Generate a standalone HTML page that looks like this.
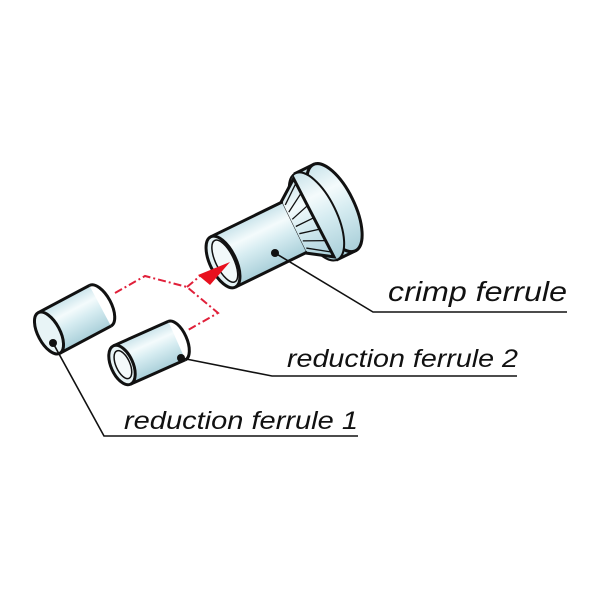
<!DOCTYPE html>
<html><head><meta charset="utf-8"><style>
html,body{margin:0;padding:0;background:#fff;}
svg{display:block}
text{font-family:"Liberation Sans",sans-serif;font-style:italic;fill:#111}
</style></head><body>
<svg width="600" height="600" viewBox="0 0 600 600" xmlns="http://www.w3.org/2000/svg">
<defs>
<linearGradient id="g" x1="0" y1="0" x2="0" y2="1">
<stop offset="0" stop-color="#c9e3ea"/><stop offset="0.3" stop-color="#f4fbfc"/><stop offset="0.55" stop-color="#d6ecf1"/><stop offset="1" stop-color="#a9cfd9"/>
</linearGradient>
</defs>
<g transform="translate(223,262) rotate(-26)" stroke="#111" stroke-width="3">
  <rect x="104" y="-48" width="20" height="96" fill="url(#g)"/>
  <ellipse cx="124" cy="0" rx="20" ry="48" fill="url(#g)"/>
  <ellipse cx="104" cy="0" rx="20" ry="48" fill="url(#g)" stroke-width="2"/>
  <path d="M78,-28 L100,-44 L102,44 L78,28 Z" fill="url(#g)"/>
  <g stroke-width="1.3">
    <line x1="81" y1="-24" x2="99" y2="-38"/><line x1="81" y1="-16" x2="101" y2="-28"/>
    <line x1="81" y1="-8" x2="102" y2="-14"/><line x1="81" y1="0" x2="102" y2="0"/>
    <line x1="81" y1="8" x2="102" y2="13"/><line x1="81" y1="16" x2="102" y2="26"/>
    <line x1="81" y1="24" x2="101" y2="38"/>
  </g>
  <rect x="0" y="-28" width="79" height="56" fill="url(#g)" stroke="none"/>
  <line x1="0" y1="-28" x2="80" y2="-28"/><line x1="0" y1="28" x2="80" y2="28"/>
  <ellipse cx="0" cy="0" rx="13" ry="28" fill="#e4f2f5"/>
  <ellipse cx="2" cy="0" rx="9" ry="23" fill="#f2f9fa" stroke-width="1.5"/>
</g>
<g transform="translate(49,333) rotate(-28)" stroke="#111" stroke-width="3">
  <rect x="0" y="-23" width="58" height="46" fill="url(#g)" stroke="none"/>
  <line x1="0" y1="-23" x2="58" y2="-23"/><line x1="0" y1="23" x2="58" y2="23"/>
  <path d="M58,-23 A11,23 0 0 1 58,23" fill="none"/>
  <ellipse cx="0" cy="0" rx="11" ry="23" fill="#e8f4f6"/>
</g>
<g transform="translate(122,365) rotate(-24)" stroke="#111" stroke-width="3">
  <rect x="0" y="-21" width="60" height="42" fill="url(#g)" stroke="none"/>
  <line x1="0" y1="-21" x2="60" y2="-21"/><line x1="0" y1="21" x2="60" y2="21"/>
  <path d="M60,-21 A10,21 0 0 1 60,21" fill="none"/>
  <ellipse cx="0" cy="0" rx="11" ry="21" fill="#e8f4f6"/>
  <ellipse cx="1" cy="0" rx="7" ry="15" fill="#f4fafb" stroke-width="1.5"/>
</g>
<g stroke="#e0203a" stroke-width="2" fill="none" stroke-dasharray="8,3,2,3">
  <polyline points="115,293 145,276 187,287 218,313 188,330"/>
  <polyline points="187,287 200,276"/>
</g>
<polygon points="198,275 230,262 210,285" fill="#e8101e"/>
<g stroke="#111" stroke-width="1.6" fill="none">
  <polyline points="275,253 373,312 567,312"/>
  <polyline points="181,358 272,376 517,376"/>
  <polyline points="53,343 104,436 358,436"/>
</g>
<circle cx="275" cy="253" r="4" fill="#111"/>
<circle cx="181" cy="358" r="4" fill="#111"/>
<circle cx="53" cy="343" r="4" fill="#111"/>
<text x="388" y="301" font-size="28" textLength="179" lengthAdjust="spacingAndGlyphs">crimp ferrule</text>
<text x="287" y="367" font-size="25" textLength="231" lengthAdjust="spacingAndGlyphs">reduction ferrule 2</text>
<text x="124" y="429" font-size="25" textLength="234" lengthAdjust="spacingAndGlyphs">reduction ferrule 1</text>
</svg>
</body></html>
